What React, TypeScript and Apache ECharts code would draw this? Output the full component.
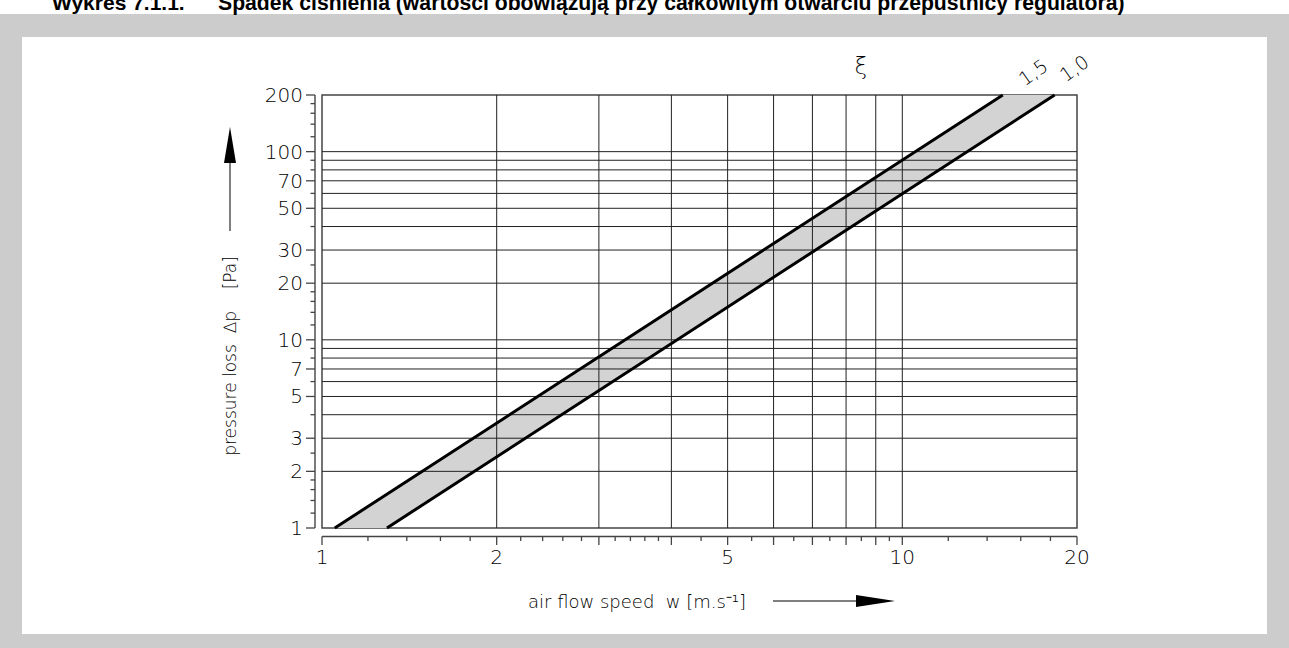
import React, { useEffect, useRef } from "react";
import * as echarts from "echarts";

// ---- data ----
const speedRange = [1, 20];
const pressureRange = [1, 200];

const xi15Speed = [1.052, 14.9];
const xi15Pressure = [1, 200];
const xi10Speed = [1.294, 18.3];
const xi10Pressure = [1, 200];

const verticalGrid = [2, 3, 4, 5, 6, 7, 8, 9, 10];
const horizontalGrid = [2, 3, 4, 5, 6, 7, 8, 9, 10, 20, 30, 40, 50, 60, 70, 80, 90, 100];

const xMajorTicks = [1, 2, 3, 4, 5, 6, 7, 8, 9, 10, 20];
const xMinorTicks = [1.2, 1.4, 1.6, 1.8, 2.2, 2.4, 2.6, 2.8, 3.2, 3.4, 3.6, 3.8, 4.5, 5.5, 6.5, 7.5, 8.5, 9.5, 12, 14, 16, 18];
const xTickLabels = [1, 2, 5, 10, 20];

const yMajorTicks = [1, 2, 3, 5, 7, 10, 20, 30, 50, 70, 100, 200];
const yMinorTicks = [1.2, 1.4, 1.6, 1.8, 2.5, 4, 6, 8, 9, 12, 14, 16, 18, 25, 40, 60, 80, 90, 120, 140, 160, 180];
const yTickLabels = [1, 2, 3, 5, 7, 10, 20, 30, 50, 70, 100, 200];

const seriesNames = ["1,5", "1,0"];

const FONT = "'Liberation Sans', Arial, sans-serif";
const TFONT = "'DejaVu Sans', 'Liberation Sans', sans-serif";
const INK = "#000";
const TW = 200;

export default function App() {
  const ref = useRef<HTMLDivElement>(null);

  useEffect(() => {
    if (!ref.current) return;
    const chart = echarts.init(ref.current, undefined, { renderer: "svg" });

    const option: any = {
      animation: false,
      grid: {
        left: 322,
        right: 212,
        top: 95,
        bottom: 120,
        show: true,
        borderColor: "#444",
        borderWidth: 1.5,
        backgroundColor: "transparent",
      },
      xAxis: {
        type: "log",
        logBase: 10,
        min: speedRange[0],
        max: speedRange[1],
        axisLine: { show: false },
        axisTick: { show: false },
        axisLabel: { show: false },
        splitLine: { show: false },
        minorTick: { show: false },
      },
      yAxis: {
        type: "log",
        logBase: 10,
        min: pressureRange[0],
        max: pressureRange[1],
        axisLine: { show: false },
        axisTick: { show: false },
        axisLabel: { show: false },
        splitLine: { show: false },
        minorTick: { show: false },
      },
      series: [
        {
          type: "custom",
          z: 1,
          silent: true,
          data: [[xi15Speed[0], xi15Pressure[0]]],
          renderItem: (_p: any, api: any) => {
            const pts = [
              api.coord([xi15Speed[0], xi15Pressure[0]]),
              api.coord([xi15Speed[1], xi15Pressure[1]]),
              api.coord([xi10Speed[1], xi10Pressure[1]]),
              api.coord([xi10Speed[0], xi10Pressure[0]]),
            ];
            return { type: "polygon", shape: { points: pts }, style: { fill: "#d3d3d3", stroke: "none" } };
          },
        },
        {
          type: "custom",
          z: 2,
          silent: true,
          data: verticalGrid.map((v) => [v, pressureRange[0]]),
          renderItem: (_p: any, api: any) => {
            const v = api.value(0);
            const a = api.coord([v, pressureRange[0]]);
            const b = api.coord([v, pressureRange[1]]);
            return { type: "line", shape: { x1: a[0], y1: a[1], x2: b[0], y2: b[1] }, style: { stroke: "#222", lineWidth: 1 } };
          },
        },
        {
          type: "custom",
          z: 2,
          silent: true,
          data: horizontalGrid.map((v) => [speedRange[0], v]),
          renderItem: (_p: any, api: any) => {
            const v = api.value(1);
            const a = api.coord([speedRange[0], v]);
            const b = api.coord([speedRange[1], v]);
            return { type: "line", shape: { x1: a[0], y1: a[1], x2: b[0], y2: b[1] }, style: { stroke: "#222", lineWidth: 1 } };
          },
        },
        {
          type: "custom",
          z: 2,
          silent: true,
          data: [[speedRange[0], pressureRange[0]]],
          renderItem: (_p: any, api: any) => {
            const bl = api.coord([speedRange[0], pressureRange[0]]);
            const tl = api.coord([speedRange[0], pressureRange[1]]);
            const br = api.coord([speedRange[1], pressureRange[0]]);
            const ax = bl[0] - 7;
            const ay = bl[1] + 8.5;
            return {
              type: "group",
              children: [
                { type: "line", shape: { x1: ax, y1: bl[1], x2: ax, y2: tl[1] }, style: { stroke: "#444", lineWidth: 1.4 } },
                { type: "line", shape: { x1: bl[0], y1: ay, x2: br[0], y2: ay }, style: { stroke: "#444", lineWidth: 1.4 } },
              ],
            };
          },
        },
        {
          type: "custom",
          z: 2,
          silent: true,
          data: [...yMajorTicks.map((v) => [speedRange[0], v, 1]), ...yMinorTicks.map((v) => [speedRange[0], v, 0])],
          renderItem: (_p: any, api: any) => {
            const v = api.value(1);
            const major = api.value(2) === 1;
            const p = api.coord([speedRange[0], v]);
            const ax = p[0] - 7;
            const len = major ? 9 : 4.5;
            const children: any[] = [
              { type: "line", shape: { x1: ax - len, y1: p[1], x2: ax, y2: p[1] }, style: { stroke: "#444", lineWidth: 1.3 } },
            ];
            if (yTickLabels.indexOf(v) >= 0) {
              children.push({
                type: "text",
                x: ax - len - 3,
                y: p[1],
                style: { text: String(v), align: "right", verticalAlign: "middle", fontFamily: TFONT, fontWeight: TW, fontSize: 20, fill: INK },
              });
            }
            return { type: "group", children };
          },
        },
        {
          type: "custom",
          z: 2,
          silent: true,
          data: [...xMajorTicks.map((v) => [v, pressureRange[0], 1]), ...xMinorTicks.map((v) => [v, pressureRange[0], 0])],
          renderItem: (_p: any, api: any) => {
            const v = api.value(0);
            const major = api.value(2) === 1;
            const p = api.coord([v, pressureRange[0]]);
            const ay = p[1] + 8.5;
            const len = major ? 8.5 : 4.5;
            const children: any[] = [
              { type: "line", shape: { x1: p[0], y1: ay, x2: p[0], y2: ay + len }, style: { stroke: "#444", lineWidth: 1.3 } },
            ];
            if (xTickLabels.indexOf(v) >= 0) {
              children.push({
                type: "text",
                x: p[0],
                y: ay + 20,
                style: { text: String(v), align: "center", verticalAlign: "middle", fontFamily: TFONT, fontWeight: TW, fontSize: 20, fill: INK },
              });
            }
            return { type: "group", children };
          },
        },
        {
          name: seriesNames[0],
          type: "line",
          z: 3,
          symbol: "none",
          data: xi15Speed.map((s, i) => [s, xi15Pressure[i]]),
          lineStyle: { color: "#000", width: 3 },
        },
        {
          name: seriesNames[1],
          type: "line",
          z: 3,
          symbol: "none",
          data: xi10Speed.map((s, i) => [s, xi10Pressure[i]]),
          lineStyle: { color: "#000", width: 3 },
        },
      ],
      graphic: [
        {
          type: "text",
          x: 52,
          y: 2,
          style: { text: "Wykres 7.1.1.", fontFamily: FONT, fontWeight: "bold", fontSize: 21, fill: "#000", verticalAlign: "middle" },
        },
        {
          type: "text",
          x: 218,
          y: 2,
          style: {
            text: "Spadek ciśnienia (wartości obowiązują przy całkowitym otwarciu przepustnicy regulatora)",
            fontFamily: FONT,
            fontWeight: "bold",
            fontSize: 21.2,
            fill: "#000",
            verticalAlign: "middle",
          },
        },
        {
          type: "text",
          x: 861,
          y: 66,
          style: { text: "ξ", fontFamily: TFONT, fontWeight: TW, fontSize: 23, fill: INK, align: "center", verticalAlign: "middle" },
        },
        {
          type: "text",
          x: 1033,
          y: 72,
          rotation: (35 * Math.PI) / 180,
          style: { text: seriesNames[0], fontFamily: TFONT, fontWeight: TW, fontSize: 19, fill: INK, align: "center", verticalAlign: "middle" },
        },
        {
          type: "text",
          x: 1074,
          y: 68,
          rotation: (35 * Math.PI) / 180,
          style: { text: seriesNames[1], fontFamily: TFONT, fontWeight: TW, fontSize: 19, fill: INK, align: "center", verticalAlign: "middle" },
        },
        {
          type: "text",
          x: 230,
          y: 356,
          rotation: Math.PI / 2,
          style: { text: "pressure loss  ∆p    [Pa]", fontFamily: TFONT, fontWeight: TW, fontSize: 17, fill: INK, align: "center", verticalAlign: "middle" },
        },
        { type: "line", shape: { x1: 230, y1: 231, x2: 230, y2: 160 }, style: { stroke: "#555", lineWidth: 1.5 } },
        { type: "polygon", shape: { points: [[224, 163], [236, 163], [230, 127]] }, style: { fill: "#000" } },
        {
          type: "text",
          x: 528,
          y: 601,
          style: { text: "air flow speed  w [m.s⁻¹]", fontFamily: TFONT, fontWeight: TW, fontSize: 18, fill: INK, verticalAlign: "middle" },
        },
        { type: "line", shape: { x1: 773, y1: 601, x2: 860, y2: 601 }, style: { stroke: "#555", lineWidth: 1.5 } },
        { type: "polygon", shape: { points: [[856, 595], [856, 607], [895, 601]] }, style: { fill: "#000" } },
      ],
    };

    chart.setOption(option);
    return () => chart.dispose();
  }, []);

  return (
    <div style={{ position: "fixed", left: 0, top: 0, width: 1289, height: 648, background: "#fff" }}>
      <div style={{ position: "absolute", left: 0, top: 14, width: 1289, height: 634, background: "#cccccc" }} />
      <div style={{ position: "absolute", left: 22, top: 37, width: 1245, height: 597, background: "#ffffff" }} />
      <div ref={ref} style={{ position: "absolute", left: 0, top: 0, width: 1289, height: 648 }} />
    </div>
  );
}
